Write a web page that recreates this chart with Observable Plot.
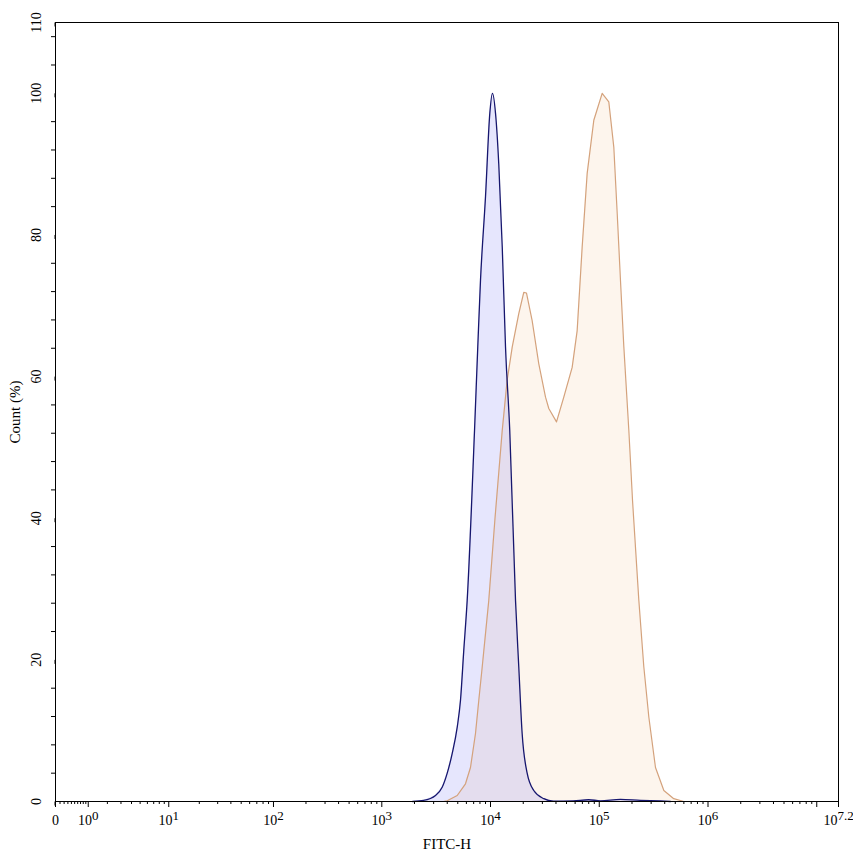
<!DOCTYPE html>
<html><head><meta charset="utf-8">
<script src="https://cdn.jsdelivr.net/npm/d3@7"></script>
<script src="https://cdn.jsdelivr.net/npm/@observablehq/plot@0.6"></script>
<style>body{margin:0;background:#fff}</style>
</head><body><div id="chart"></div>
<script>
// Blue histogram (control): FITC-H value, Count (%)
const blueX = [1919, 2421, 3120, 3594, 3999, 4446, 4943, 5297, 5676, 6104, 7129, 7638, 8091, 8995, 9857, 10423, 11117, 11912, 12823, 13740, 15031, 16982, 18197, 19543, 21727, 24997, 30903, 37931, 57943, 80000, 102600, 156700, 239500, 365600, 451600];
const blueY = [0, 0.15, 0.85, 2.0, 4, 6.8, 10.5, 14.3, 21.3, 28.4, 52.4, 64.2, 73.6, 85.4, 97.2, 100, 97.2, 90, 78.3, 64.2, 52.4, 28.4, 19, 9.6, 4, 1.55, 0.4, 0.05, 0.1, 0.25, 0.1, 0.3, 0.15, 0.1, 0];
// Orange histogram (stained sample)
const orangeX = [3698, 3999, 4943, 5888, 6546, 7278, 7805, 8390, 8995, 9642, 11000, 12823, 14230, 15849, 18197, 20230, 21430, 24150, 27800, 32060, 34360, 40450, 47210, 56360, 62660, 69660, 77450, 89130, 106400, 122400, 136100, 146300, 156700, 168300, 187100, 202300, 231200, 257000, 285800, 328900, 392600, 484300, 598800];
const orangeY = [0, 0.1, 0.85, 2.5, 4.8, 9.6, 14.3, 19, 23.7, 28.4, 40, 52.4, 59.5, 64.2, 68.9, 71.9, 71.8, 67.9, 61.8, 57.1, 55.5, 53.6, 57.1, 61.3, 66.5, 78.3, 88.7, 96.2, 100, 98.8, 92.4, 83, 73.6, 64.2, 52.4, 42.5, 28.4, 19, 11.9, 4.8, 1.55, 0.4, 0];

const xMajorTicks = [0, 1, 10, 100, 1000, 10000, 100000, 1000000, 10000000, 15848932];
const xMajorLabels = ["0", "10^0", "10^1", "10^2", "10^3", "10^4", "10^5", "10^6", "", "10^7.2"];
const yMajorTicks = [0, 20, 40, 60, 80, 100, 110];
const yMinorTicks = [4, 8, 12, 16, 24, 28, 32, 36, 44, 48, 52, 56, 64, 68, 72, 76, 84, 88, 92, 96, 104, 108];
const xMinorMult = [2, 3, 4, 5, 6, 7, 8, 9];
const xMinorSub = [0.1, 0.2, 0.3, 0.4, 0.5, 0.6, 0.7, 0.8, 0.9];

const xMinorTicks = [...xMinorSub];
for (const p of [1, 10, 100, 1000, 10000, 100000, 1000000]) for (const m of xMinorMult) xMinorTicks.push(m * p);

const blue = blueX.map((x, i) => ({x, y: blueY[i]}));
const orange = orangeX.map((x, i) => ({x, y: orangeY[i]}));

const plot = Plot.plot({
  width: 853, height: 856,
  marginLeft: 55, marginRight: 15, marginTop: 22, marginBottom: 55,
  style: {fontFamily: "'Liberation Serif', 'Times New Roman', serif", fontSize: "14px", background: "#fff", color: "#000"},
  x: {type: "symlog", constant: 1, domain: [0, 15848932]},
  y: {domain: [0, 110]},
  marks: [
    Plot.areaY(orange, {x: "x", y: "y", fill: "#f5c090", fillOpacity: 0.16}),
    Plot.areaY(blue, {x: "x", y: "y", fill: "#6464f0", fillOpacity: 0.16}),
    Plot.lineY(orange, {x: "x", y: "y", stroke: "#d4a27c", strokeWidth: 1.2}),
    Plot.lineY(blue, {x: "x", y: "y", stroke: "#16166e", strokeWidth: 1.3, curve: "monotone-x"}),
    Plot.frame({stroke: "#000"}),
    Plot.axisX({ticks: xMinorTicks, tickSize: 3, tickFormat: () => "", label: null}),
    Plot.axisX({ticks: xMajorTicks, tickSize: 6, tickPadding: 8, tickFormat: d => xMajorLabels[xMajorTicks.indexOf(d)], label: "FITC-H", labelAnchor: "center", labelOffset: 47, labelArrow: "none"}),
    Plot.axisY({ticks: yMinorTicks, tickSize: 4, tickFormat: () => "", label: null}),
    Plot.axisY({ticks: yMajorTicks, tickSize: 4, tickPadding: 15, rotate: -90, textAnchor: "middle", label: "Count (%)", labelAnchor: "center", labelOffset: 46, labelArrow: "none"})
  ]
});
document.getElementById("chart").append(plot);

// text sizes and superscript exponents on the x tick labels
plot.querySelectorAll("text").forEach(t => {
  const s = t.textContent;
  if (s === "FITC-H" || s === "Count (%)") { t.style.fontSize = "15px"; return; }
  t.style.fontSize = "14px";
  if (s.startsWith("10^")) {
    t.textContent = "10";
    const sup = document.createElementNS("http://www.w3.org/2000/svg", "tspan");
    sup.setAttribute("dy", "-0.45em");
    sup.style.fontSize = "13px";
    sup.textContent = s.slice(3);
    t.appendChild(sup);
  }
});
</script>
</body></html>
